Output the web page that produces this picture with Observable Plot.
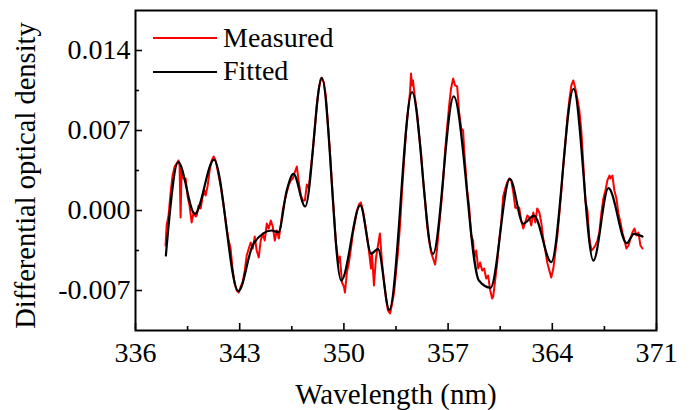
<!DOCTYPE html>
<html><head><meta charset="utf-8">
<script src="https://cdn.jsdelivr.net/npm/d3@7"></script>
<script src="https://cdn.jsdelivr.net/npm/@observablehq/plot@0.6"></script>
<style>
body{margin:0;background:#fff;}
#wrap{position:relative;width:690px;height:410px;font-family:"Liberation Serif","Times New Roman",serif;}
#legend{position:absolute;left:0;top:0;}
</style></head><body>
<div id="wrap"><div id="chart"></div><svg id="legend" width="690" height="100"></svg></div>
<script>
const xTicks = [336, 343, 350, 357, 364, 371];
const xMinor = [339.5, 346.5, 353.5, 360.5, 367.5];
const yTicks = [-0.007, 0, 0.007, 0.014];
const yMinor = [-0.0035, 0.0035, 0.0105];
const seriesNames = ["Measured", "Fitted"];
const seriesColors = ["#ff0000", "#000000"];
const xTitle = "Wavelength (nm)";
const yTitle = "Differential optical density";

// [wavelength (nm), differential optical density]
const fitted = [
[338.04,-0.00394],[338.87,0.00423],[339.99,-0.00029],[341.27,0.00444],[342.91,-0.00706],
[343.92,-0.00291],[345.15,-0.00175],[345.60,-0.0019],[346.16,0.00175],[346.61,0.00321],
[347.40,0.00035],[348.52,0.01161],[349.82,-0.00613],[351.10,0.00044],[351.84,-0.00379],
[352.29,-0.00335],[353.05,-0.00869],[354.58,0.01035],[355.99,-0.00379],[357.38,0.00998],
[359.07,-0.00613],[359.85,-0.00676],[361.15,0.00277],[362.05,-0.00116],[362.77,-0.00044],
[363.93,-0.00452],[365.43,0.01065],[366.76,-0.00438],[367.77,0.00195],[369.00,-0.00286],
[369.49,-0.00204],[370.06,-0.00228]
];

const measured = [
[338.02,-0.00306],[338.09,-0.00131],[338.22,-0.00044],[338.36,0.00158],[338.49,0.00306],
[338.63,0.00385],[338.76,0.00411],[338.89,0.00438],[338.96,0.00394],[339.03,-0.00061],
[339.10,0.00368],[339.23,0.0028],[339.37,0.0028],[339.50,0.00123],[339.63,0.00044],
[339.77,-0.00105],[339.90,-0.00018],[340.04,-0.00053],[340.11,-0.00044],[340.24,0.00044],
[340.38,0.00018],[340.51,0.00123],[340.64,0.00175],[340.71,0.00131],[340.85,0.00219],
[340.98,0.0035],[341.12,0.00438],[341.25,0.00473],[341.38,0.00438],[341.52,0.0035],
[341.72,0.00219],[341.92,0.00044],[342.13,-0.00158],[342.26,-0.00263],[342.39,-0.00333],
[342.53,-0.00525],[342.66,-0.00639],[342.80,-0.007],[342.93,-0.00718],[343.07,-0.00665],
[343.20,-0.0063],[343.34,-0.00525],[343.47,-0.00394],[343.61,-0.00333],[343.74,-0.0028],
[343.88,-0.00333],[344.01,-0.00228],[344.14,-0.0035],[344.28,-0.00411],[344.41,-0.00263],
[344.55,-0.00201],[344.68,-0.00263],[344.82,-0.00114],[344.95,-0.00158],[345.09,-0.00088],
[345.22,-0.0014],[345.36,-0.00263],[345.49,-0.00175],[345.63,-0.00245],[345.76,-0.00131],
[345.89,0],[346.03,0.00088],[346.16,0.00158],[346.30,0.00228],[346.43,0.00263],
[346.57,0.0028],[346.70,0.00333],[346.84,0.00385],[346.97,0.00245],[347.11,0.00131],
[347.24,0.00088],[347.38,0.00088],[347.51,0.00228],[347.64,0.00193],[347.78,0.00368],
[347.91,0.00525],[348.05,0.00718],[348.18,0.00928],[348.32,0.01068],[348.45,0.01155],
[348.59,0.01138],[348.65,0.0112],[348.79,0.00998],[348.92,0.0077],[349.06,0.00525],
[349.19,0.00245],[349.33,-0.00018],[349.46,-0.0028],[349.60,-0.0042],[349.66,-0.00455],
[349.73,-0.00403],[349.87,-0.0063],[350.00,-0.00665],[350.07,-0.00718],[350.20,-0.00543],
[350.34,-0.00455],[350.47,-0.00333],[350.61,-0.00193],[350.74,-0.00105],[350.88,0],
[351.01,0.00053],[351.14,0.0007],[351.28,0],[351.41,-0.00105],[351.55,-0.00219],
[351.68,-0.0035],[351.82,-0.00508],[351.88,-0.00368],[352.02,-0.00656],[352.15,-0.0042],
[352.29,-0.00306],[352.42,-0.00201],[352.56,-0.00455],[352.69,-0.00613],[352.83,-0.0077],
[352.96,-0.00875],[353.10,-0.00901],[353.23,-0.00823],[353.37,-0.00718],[353.50,-0.00543],
[353.63,-0.00368],[353.77,-0.00131],[353.90,0.00158],[354.04,0.00438],[354.17,0.00683],
[354.31,0.00875],[354.44,0.01033],[354.51,0.01199],[354.58,0.01094],[354.64,0.01138],
[354.78,0.0098],[354.91,0.00858],[355.05,0.00665],[355.18,0.00508],[355.32,0.00263],
[355.45,0.00088],[355.59,-0.00131],[355.72,-0.00263],[355.86,-0.00368],[355.99,-0.0042],
[356.13,-0.00473],[356.26,-0.00333],[356.39,-0.0014],[356.53,0.00044],[356.66,0.00245],
[356.80,0.00525],[356.93,0.00718],[357.07,0.00919],[357.20,0.01068],[357.34,0.01155],
[357.47,0.01094],[357.61,0.01085],[357.74,0.00858],[357.88,0.00718],[358.01,0.007],
[358.08,0.00525],[358.21,0.00306],[358.28,0.00175],[358.41,0.00044],[358.55,-0.00219],
[358.68,-0.00263],[358.75,-0.0042],[358.89,-0.0035],[359.02,-0.00508],[359.15,-0.00455],
[359.29,-0.00525],[359.42,-0.00508],[359.56,-0.00595],[359.69,-0.00569],[359.83,-0.007],
[359.96,-0.0077],[360.03,-0.00753],[360.16,-0.00613],[360.30,-0.00455],[360.43,-0.00263],
[360.57,-0.00105],[360.70,0.00123],[360.84,0.00193],[360.97,0.00245],[361.11,0.0028],
[361.24,0.00263],[361.38,0.00158],[361.51,0.00026],[361.64,0.00018],[361.78,0.00026],
[361.91,-0.00088],[362.05,-0.00158],[362.18,-0.00105],[362.32,-0.00044],[362.45,-0.00061],
[362.59,-0.00131],[362.72,-0.00018],[362.86,-0.00105],[362.99,0.00018],[363.13,-0.00018],
[363.26,-0.00105],[363.39,-0.00245],[363.53,-0.0035],[363.66,-0.00455],[363.80,-0.00525],
[363.93,-0.00586],[364.07,-0.00508],[364.20,-0.00368],[364.34,-0.00219],[364.47,-0.00035],
[364.61,0.00175],[364.74,0.00394],[364.88,0.00595],[365.01,0.00805],[365.14,0.00963],
[365.28,0.01094],[365.41,0.01138],[365.55,0.01068],[365.68,0.0098],[365.82,0.00875],
[365.95,0.007],[366.09,0.00394],[366.22,0.00088],[366.36,0],[366.49,-0.00245],
[366.63,-0.0035],[366.76,-0.00333],[366.89,-0.00306],[367.03,-0.00263],[367.16,-0.00193],
[367.30,-0.00018],[367.43,0.00105],[367.57,0.00175],[367.70,0.00263],[367.84,0.00306],
[367.90,0.0028],[368.04,0.00306],[368.17,0.00175],[368.31,0.00105],[368.44,-0.00026],
[368.58,-0.00105],[368.71,-0.00193],[368.85,-0.00263],[368.98,-0.00333],[369.12,-0.00306],
[369.25,-0.00245],[369.38,-0.00193],[369.52,-0.00158],[369.65,-0.00219],[369.79,-0.00193],
[369.92,-0.00306],[370.06,-0.00333]
];

const W = 690, H = 410, mL = 135, mR = 34, mT = 10, mB = 80;
const pw = W - mL - mR, ph = H - mT - mB;
const FONT = '"Liberation Serif","Times New Roman",serif';

const chart = Plot.plot({
  width: W, height: H,
  marginLeft: mL, marginRight: mR, marginTop: mT, marginBottom: mB,
  style: {fontFamily: FONT, fontSize: "28px", color: "#000", background: "#fff", overflow: "visible"},
  x: {domain: [336, 371], label: null},
  y: {domain: [-0.0105, 0.0175], label: null},
  marks: [
    Plot.line(measured, {x: d => d[0], y: d => d[1], stroke: seriesColors[0], strokeWidth: 2}),
    Plot.line(fitted, {x: d => d[0], y: d => d[1], stroke: seriesColors[1], strokeWidth: 2.2, curve: "monotone-x"}),
    Plot.ruleX(xTicks, {x: d => d, insetTop: ph - 7, stroke: "#000", strokeWidth: 1.6}),
    Plot.ruleX(xMinor, {x: d => d, insetTop: ph - 4, stroke: "#000", strokeWidth: 1.6}),
    Plot.ruleY(yTicks, {y: d => d, insetRight: pw - 7, stroke: "#000", strokeWidth: 1.6}),
    Plot.ruleY(yMinor, {y: d => d, insetRight: pw - 4, stroke: "#000", strokeWidth: 1.6}),
    Plot.axisX({ticks: xTicks, tickSize: 0, tickPadding: 12, tickFormat: d => String(d), label: null, fontSize: 28}),
    Plot.axisY({ticks: yTicks, tickSize: 0, tickPadding: 5, tickFormat: d => d.toFixed(3), label: null, fontSize: 28}),
    Plot.frame({stroke: "#000", strokeWidth: 2}),
    Plot.text([xTitle], {frameAnchor: "bottom", dy: 64, lineAnchor: "middle", textAnchor: "middle", fontSize: 29, fill: "#000"}),
    Plot.text([yTitle], {frameAnchor: "left", rotate: -90, dx: -110, dy: 5, lineAnchor: "middle", textAnchor: "middle", fontSize: 28.5, fill: "#000"})
  ]
});
document.getElementById("chart").appendChild(chart);

// legend overlay
const lg = d3.select("#legend");
const legendRows = [{y: 38, ty: 47}, {y: 72, ty: 80}];
seriesNames.forEach((name, i) => {
  const r = legendRows[i];
  lg.append("line").attr("x1", 153).attr("x2", 217).attr("y1", r.y).attr("y2", r.y)
    .attr("stroke", seriesColors[i]).attr("stroke-width", i === 0 ? 2 : 2.2);
  lg.append("text").attr("x", 223).attr("y", r.ty).attr("font-family", FONT)
    .attr("font-size", 28).attr("fill", "#000").text(name);
});
</script>
</body></html>
